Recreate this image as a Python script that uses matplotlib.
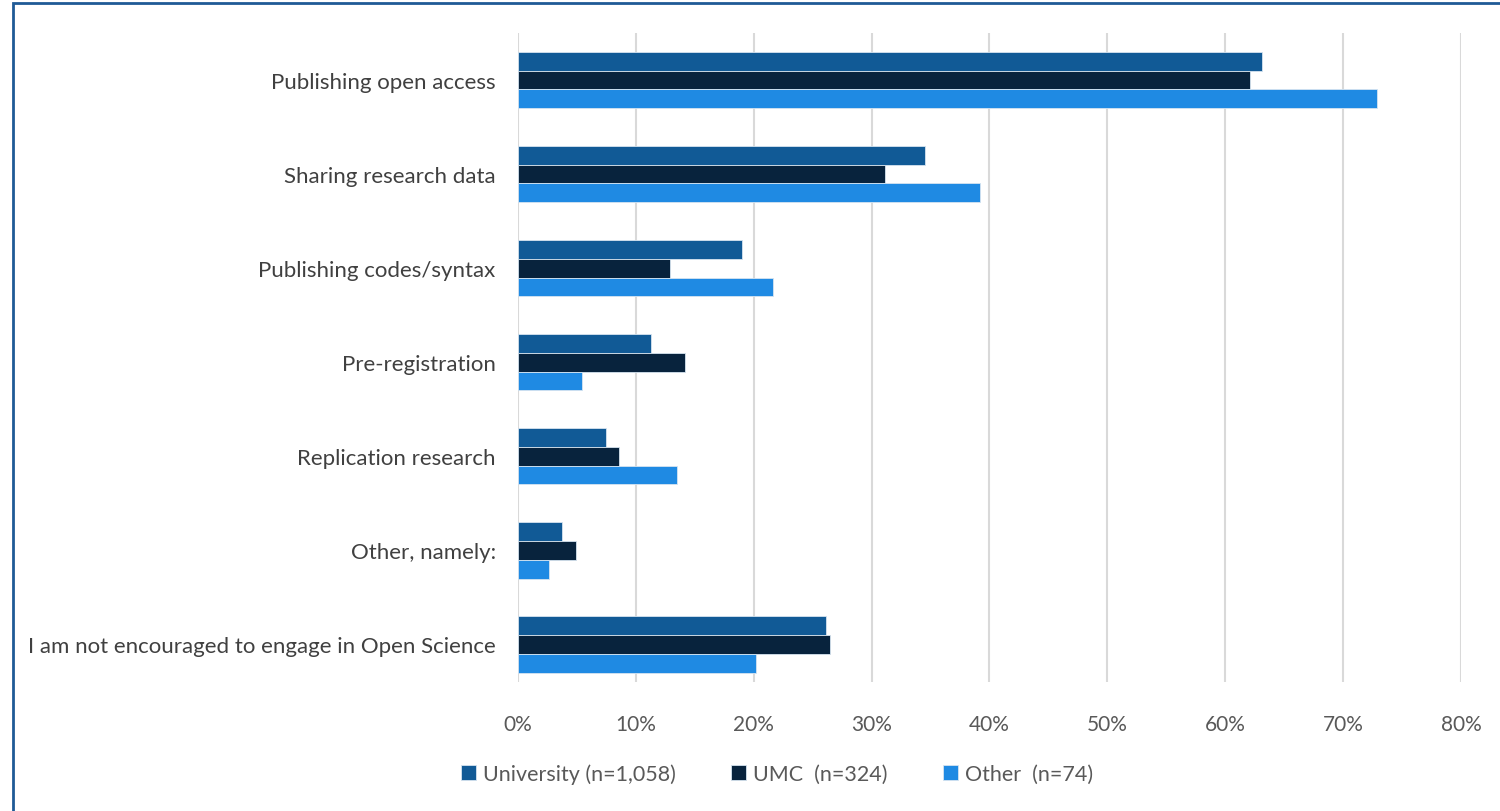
import matplotlib.pyplot as plt
import numpy as np
from matplotlib.patches import Rectangle

categories = ['Publishing open access', 'Sharing research data', 'Publishing codes/syntax',
              'Pre-registration', 'Replication research', 'Other, namely:',
              'I am not encouraged to engage in Open Science']
university = [63.1, 34.5, 19.0, 11.3, 7.5, 3.7, 26.1]
umc = [62.1, 31.1, 12.9, 14.2, 8.6, 4.9, 26.5]
other = [72.9, 39.2, 21.6, 5.4, 13.5, 2.6, 20.2]
series = [('University (n=1,058)', university, '#115A96'),
          ('UMC  (n=324)', umc, '#08233D'),
          ('Other  (n=74)', other, '#1F8AE3')]
ticks = np.arange(0, 81, 10)

plt.rcParams['font.family'] = ['Lato', 'DejaVu Sans']
fig = plt.figure(figsize=(15, 8.12), dpi=100)
ax = fig.add_axes([0.3453, 0.1589, 0.6287, 0.7993])

y = np.arange(len(categories))
h = 0.2
for i, (name, vals, col) in enumerate(series):
  ax.barh(y + (i - 1) * h, vals, height=h, color=col, label=name,
          edgecolor='#D6E4F0', linewidth=0.6, zorder=3)

ax.set_xlim(0, 80)
ax.set_ylim(len(categories) - 0.6, -0.5)
ax.set_xticks(ticks)
ax.set_xticklabels([f'{t}%' for t in ticks], fontsize=15, color='#595959')
ax.set_yticks(y)
ax.set_yticklabels(categories, fontsize=16, color='#404040')
ax.tick_params(axis='both', length=0)
ax.tick_params(axis='x', pad=23)
ax.tick_params(axis='y', pad=16)
ax.grid(axis='x', color='#D9D9D9', linewidth=1.5, zorder=0)
for s in ax.spines.values():
  s.set_visible(False)

leg = fig.legend(loc='center', bbox_to_anchor=(0.518, 0.0456), ncol=3, frameon=False,
                 fontsize=15.5, handlelength=0.7, handleheight=0.7, handletextpad=0.3,
                 columnspacing=2.6, labelcolor='#595959')

fig.patches.append(Rectangle((13 / 1500, -0.1), 1.2, (812 - 4) / 812 + 0.1,
                             transform=fig.transFigure, fill=False,
                             edgecolor='#1F5A96', linewidth=2))
fig.savefig('out.png', dpi=100)
